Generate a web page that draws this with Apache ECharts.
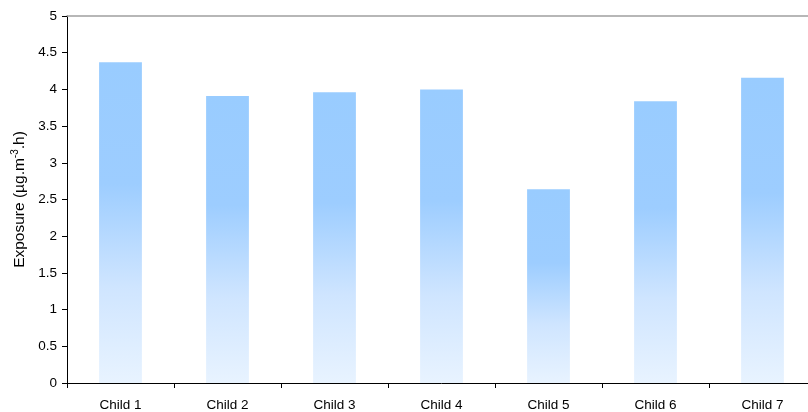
<!DOCTYPE html>
<html>
<head>
<meta charset="utf-8">
<style>
  html, body { margin: 0; padding: 0; background: #fff; overflow: hidden; width: 808px; height: 412px; }
  /* the plot runs a few pixels past the right edge of the window */
  #chart { width: 816px; height: 412px; }
</style>
<script src="https://cdn.jsdelivr.net/npm/echarts@6/dist/echarts.min.js"></script>
</head>
<body>
<div id="chart"></div>
<script>
// Exposure per child
const categories = ['Child 1', 'Child 2', 'Child 3', 'Child 4', 'Child 5', 'Child 6', 'Child 7'];
const exposure = [4.37, 3.91, 3.96, 4.00, 2.64, 3.84, 4.16];
const yTicks = { min: 0, max: 5, interval: 0.5 };

const chart = echarts.init(document.getElementById('chart'), null, { renderer: 'canvas' });
const font = 'Liberation Sans, Arial, Helvetica, sans-serif';

chart.setOption({
  animation: false,
  backgroundColor: '#ffffff',
  grid: { left: 67, right: 0, top: 16, bottom: 29, containLabel: false },
  xAxis: [
    {
      type: 'category',
      data: categories,
      axisLine: { lineStyle: { color: '#000', width: 1 } },
      axisTick: { show: true, length: 5, lineStyle: { color: '#000' } },
      axisLabel: { color: '#000', fontFamily: font, fontSize: 13.5, margin: 15 }
    },
    {
      type: 'category',
      position: 'top',
      data: categories,
      axisLine: { show: true, lineStyle: { color: '#a0a0a0', width: 1.5 } },
      axisTick: { show: false },
      axisLabel: { show: false }
    }
  ],
  yAxis: {
    type: 'value',
    min: yTicks.min,
    max: yTicks.max,
    interval: yTicks.interval,
    axisLine: { show: true, lineStyle: { color: '#000', width: 1 } },
    axisTick: { show: true, length: 5, lineStyle: { color: '#000' } },
    axisLabel: { color: '#000', fontFamily: font, fontSize: 13.5, margin: 10 },
    splitLine: { show: false },
    name: '{n|Exposure (µg.m}{s|-3}{n|.h)}',
    nameLocation: 'middle',
    nameGap: 38,
    nameRotate: 90,
    nameTextStyle: {
      rich: {
        n: { fontFamily: font, fontSize: 15.5, color: '#000' },
        s: { fontFamily: font, fontSize: 10, color: '#000', verticalAlign: 'top', padding: [0, 0, 9, 0] }
      }
    }
  },
  series: [{
    type: 'bar',
    data: exposure,
    barWidth: '40%',
    itemStyle: {
      color: new echarts.graphic.LinearGradient(0, 0, 0, 1, [
        { offset: 0, color: '#99ccff' },
        { offset: 0.38, color: '#9dcdff' },
        { offset: 0.7, color: '#cfe5ff' },
        { offset: 1, color: '#e8f3ff' }
      ])
    }
  }]
});
</script>
</body>
</html>
